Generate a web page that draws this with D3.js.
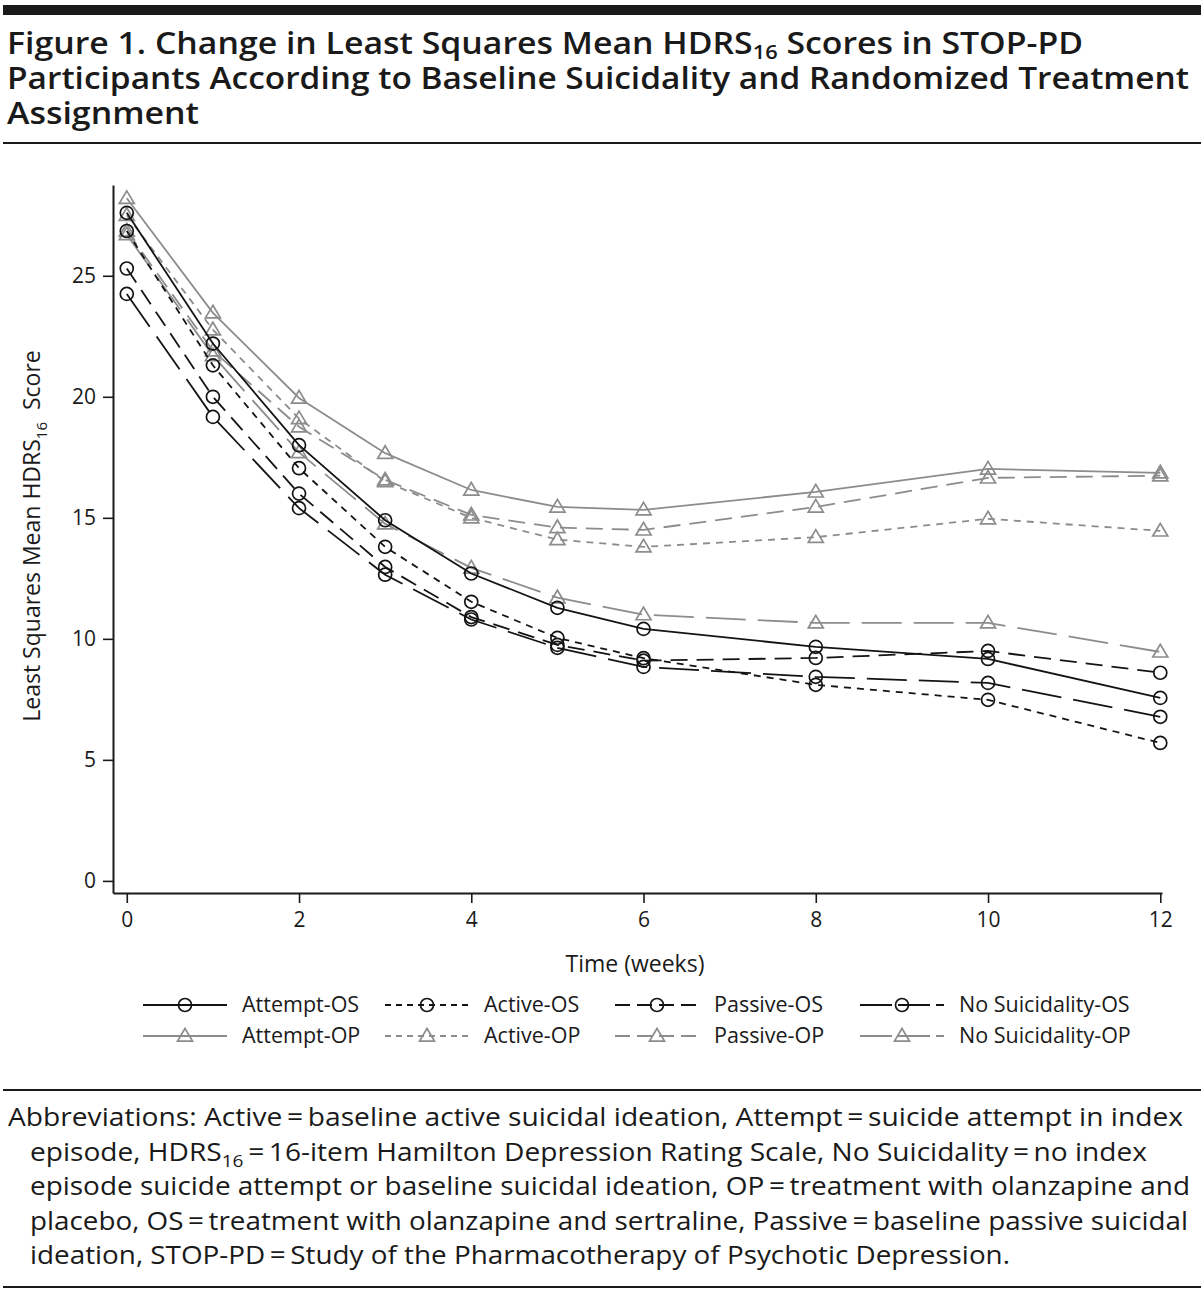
<!DOCTYPE html>
<html>
<head>
<meta charset="utf-8">
<script src="https://cdn.jsdelivr.net/npm/d3@7"></script>
<style>
body { margin: 0; background: #fff; }
text { font-family: "Open Sans", "Liberation Sans", sans-serif; fill: #1a1a1a; }
.narrow { font-family: "Open Sans", "Liberation Sans", sans-serif; }
</style>
</head>
<body>
<script>
"use strict";

// weeks on the x axis
var weeks = [0, 1, 2, 3, 4, 5, 6, 8, 10, 12];
var xTicks = [0, 2, 4, 6, 8, 10, 12];
var yTicks = [0, 5, 10, 15, 20, 25];

// least squares mean HDRS16 values
var attemptOS = [27.6, 22.2, 18.0, 14.9, 12.7, 11.28, 10.41, 9.67, 9.17, 7.56];
var activeOS = [26.85, 21.3, 17.05, 13.8, 11.53, 10.04, 9.2, 8.1, 7.48, 5.7];
var passiveOS = [25.3, 20.0, 16.0, 12.97, 10.9, 9.75, 9.1, 9.21, 9.5, 8.6];
var noneOS = [24.25, 19.17, 15.4, 12.65, 10.8, 9.63, 8.84, 8.43, 8.18, 6.78];
var attemptOP = [28.2, 23.47, 19.95, 17.67, 16.15, 15.45, 15.33, 16.07, 17.02, 16.86];
var activeOP = [27.5, 22.77, 19.1, 16.5, 15.0, 14.1, 13.8, 14.2, 14.96, 14.46];
var passiveOP = [26.85, 21.9, 18.76, 16.57, 15.12, 14.6, 14.5, 15.45, 16.65, 16.74];
var noneOP = [26.7, 21.7, 17.7, 14.75, 12.93, 11.7, 11.0, 10.66, 10.66, 9.46];

var seriesNames = ["Attempt-OS", "Active-OS", "Passive-OS", "No Suicidality-OS",
                   "Attempt-OP", "Active-OP", "Passive-OP", "No Suicidality-OP"];
var seriesValues = [attemptOS, activeOS, passiveOS, noneOS, attemptOP, activeOP, passiveOP, noneOP];

var BLACK = "#141414";
var GREY = "#8c8c8c";
var dashes = { solid: null, shortdash: "7,6", dash: "17,9", longdash: "40,12" };
var styleOf = [
    { color: BLACK, dash: "solid", mark: "circle" },
    { color: BLACK, dash: "shortdash", mark: "circle" },
    { color: BLACK, dash: "dash", mark: "circle" },
    { color: BLACK, dash: "longdash", mark: "circle" },
    { color: GREY, dash: "solid", mark: "triangle" },
    { color: GREY, dash: "shortdash", mark: "triangle" },
    { color: GREY, dash: "dash", mark: "triangle" },
    { color: GREY, dash: "longdash", mark: "triangle" }
];

var W = 1204, H = 1292;
var svg = d3.select("body").append("svg").attr("width", W).attr("height", H);

function hRule(y, w) {
    svg.append("rect").attr("x", 3).attr("y", y).attr("width", W - 6).attr("height", w).attr("fill", "#1a1a1a");
}

// header
hRule(5, 10);
var titleLines = [
    ["Figure 1. Change in Least Squares Mean HDRS", "16", " Scores in STOP-PD", 1076],
    ["Participants According to Baseline Suicidality and Randomized Treatment", null, null, 1182],
    ["Assignment", null, null, 192]
];
titleLines.forEach(function (l, i) {
    var t = svg.append("text").attr("class", "narrow")
        .attr("x", 7).attr("y", 54 + i * 35)
        .attr("font-size", 31).attr("font-weight", 600)
        .attr("textLength", l[3]).attr("lengthAdjust", "spacingAndGlyphs");
    t.append("tspan").text(l[0]);
    if (l[1]) {
        t.append("tspan").attr("font-size", 20).attr("dy", 5).text(l[1]);
        t.append("tspan").attr("dy", -5).text(l[2]);
    }
});
hRule(142, 2);

// scales
var x = d3.scaleLinear().domain([-0.16, 12.02]).range([113, 1162]);
var y = d3.scaleLinear().domain([-0.5, 28.75]).range([893, 185]);

var xAxis = svg.append("g").attr("transform", "translate(0,893)")
    .call(d3.axisBottom(x).tickValues(xTicks).tickSize(10).tickSizeOuter(0).tickPadding(9));
var yAxis = svg.append("g").attr("transform", "translate(113,0)")
    .call(d3.axisLeft(y).tickValues(yTicks).tickSize(10).tickSizeOuter(0).tickPadding(7));
[xAxis, yAxis].forEach(function (a) {
    a.select(".domain").attr("stroke", "#1a1a1a").attr("stroke-width", 2);
    a.selectAll(".tick line").attr("stroke", "#1a1a1a").attr("stroke-width", 1.6);
    a.selectAll(".tick text").attr("font-size", 21).attr("fill", "#1a1a1a")
        .attr("font-family", "\"Open Sans\", sans-serif");
});

// axis titles
var yl = svg.append("text").attr("transform", "translate(40,536) rotate(-90)")
    .attr("text-anchor", "middle").attr("font-size", 23);
yl.append("tspan").text("Least Squares Mean HDRS");
yl.append("tspan").attr("font-size", 15).attr("dy", 7).text("16");
yl.append("tspan").attr("dy", -7).text("\u00a0 Score");
svg.append("text").attr("x", 635).attr("y", 972).attr("text-anchor", "middle")
    .attr("font-size", 23).text("Time (weeks)");

// markers
function drawMark(g, cx, cy, kind, color) {
    if (kind === "circle") {
        g.append("circle").attr("cx", cx).attr("cy", cy).attr("r", 6.5)
            .attr("fill", "none").attr("stroke", color).attr("stroke-width", 1.7);
    } else {
        var s = 7.5;
        g.append("path")
            .attr("d", "M" + cx + "," + (cy - s) + "L" + (cx + s) + "," + (cy + s * 0.68) + "L" + (cx - s) + "," + (cy + s * 0.68) + "Z")
            .attr("fill", "none").attr("stroke", color).attr("stroke-width", 1.7);
    }
}

var line = d3.line().x(function (d) { return x(d[0]); }).y(function (d) { return y(d[1]); });
var plot = svg.append("g");
// draw grey (OP) first, then black (OS)
[4, 5, 6, 7, 0, 1, 2, 3].forEach(function (k) {
    var st = styleOf[k];
    var pts = weeks.map(function (w, i) { return [w, seriesValues[k][i]]; });
    var g = plot.append("g");
    g.append("path").attr("d", line(pts)).attr("fill", "none")
        .attr("stroke", st.color).attr("stroke-width", 1.8)
        .attr("stroke-dasharray", dashes[st.dash]);
    pts.forEach(function (p) { drawMark(g, x(p[0]), y(p[1]), st.mark, st.color); });
});

// legend
var legX = [143, 385, 615, 860];
var legY = [1005, 1036];
seriesNames.forEach(function (name, k) {
    var st = styleOf[k];
    var col = k % 4, row = Math.floor(k / 4);
    var lx = legX[col], ly = legY[row];
    var g = svg.append("g");
    g.append("line").attr("x1", lx).attr("x2", lx + 84).attr("y1", ly).attr("y2", ly)
        .attr("stroke", st.color).attr("stroke-width", 1.8)
        .attr("stroke-dasharray", st.dash === "solid" ? null :
            (st.dash === "shortdash" ? "6,5" : (st.dash === "dash" ? "15,7" : "32,6")));
    drawMark(g, lx + 42, ly, st.mark, st.color);
    g.append("text").attr("x", lx + 99).attr("y", ly + 7).attr("font-size", 21.5).text(name);
});

// abbreviations footnote
hRule(1089, 2);
var notes = [
    [8, ["Abbreviations: Active\u2009=\u2009baseline active suicidal ideation, Attempt\u2009=\u2009suicide attempt in index"], 1175],
    [30, ["episode, HDRS", "16", "\u2009=\u200916-item Hamilton Depression Rating Scale, No Suicidality\u2009=\u2009no index"], 1117],
    [30, ["episode suicide attempt or baseline suicidal ideation, OP\u2009=\u2009treatment with olanzapine and"], 1160],
    [30, ["placebo, OS\u2009=\u2009treatment with olanzapine and sertraline, Passive\u2009=\u2009baseline passive suicidal"], 1158],
    [30, ["ideation, STOP-PD\u2009=\u2009Study of the Pharmacotherapy of Psychotic Depression."], 980]
];
notes.forEach(function (n, i) {
    var t = svg.append("text").attr("class", "narrow").attr("x", n[0]).attr("y", 1126 + i * 34.5)
        .attr("font-size", 25).attr("textLength", n[2]).attr("lengthAdjust", "spacingAndGlyphs");
    t.append("tspan").text(n[1][0]);
    if (n[1].length > 1) {
        t.append("tspan").attr("font-size", 17).attr("dy", 6).text(n[1][1]);
        t.append("tspan").attr("dy", -6).text(n[1][2]);
    }
});
hRule(1286, 2);
</script>
</body>
</html>
